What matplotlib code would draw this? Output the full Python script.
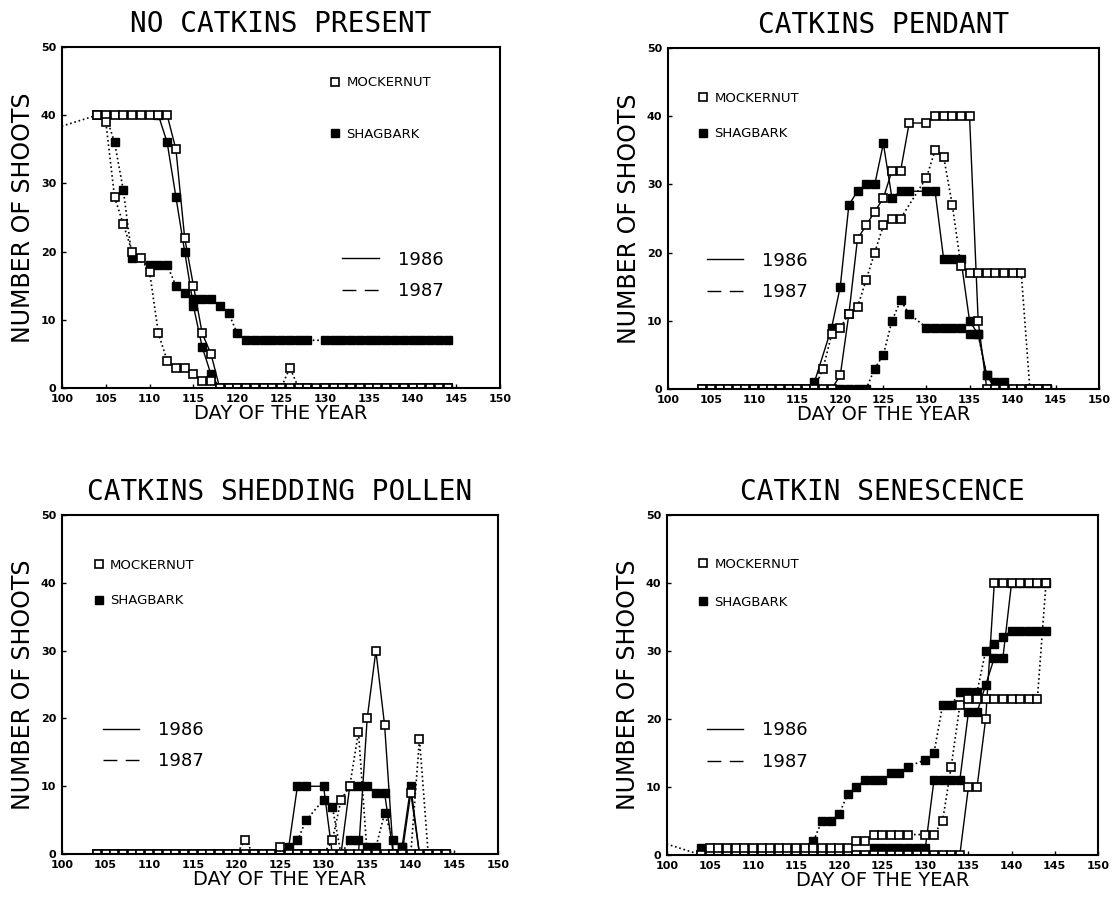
import matplotlib
matplotlib.use("Agg")
import matplotlib.pyplot as plt
from matplotlib.lines import Line2D

# ---- NO CATKINS PRESENT ----
p1_mock86_day = [104, 105, 106, 107, 108, 109, 110, 111, 112, 113, 114, 115, 116, 117, 118, 119, 120, 121,
                 122, 123, 124, 125, 126, 127, 128, 129, 130, 131, 132, 133, 134, 135, 136, 137, 138, 139,
                 140, 141, 142, 143, 144]
p1_mock86 = [40, 40, 40, 40, 40, 40, 40, 40, 40, 35, 22, 15, 8, 5, 0, 0, 0, 0,
             0, 0, 0, 0, 0, 0, 0, 0, 0, 0, 0, 0, 0, 0, 0, 0, 0, 0,
             0, 0, 0, 0, 0]
p1_mock87_day = [99, 104, 105, 106, 107, 108, 109, 110, 111, 112, 113, 114, 115, 116, 117, 118, 119, 120,
                 121, 122, 123, 124, 125, 126, 127, 128, 130, 131, 132, 133, 134, 135, 136, 137, 138, 139,
                 140, 141, 142, 143, 144]
p1_mock87 = [38, 40, 39, 28, 24, 20, 19, 17, 8, 4, 3, 3, 2, 1, 1, 0, 0, 0,
             0, 0, 0, 0, 0, 3, 0, 0, 0, 0, 0, 0, 0, 0, 0, 0, 0, 0,
             0, 0, 0, 0, 0]
p1_shag86_day = [111, 112, 113, 114, 115, 116, 117, 118, 119, 120, 121, 122, 123, 124, 125, 126, 127, 128,
                 129, 130, 131, 132, 133, 134, 135, 136, 137, 138, 139, 140, 141, 142, 143, 144]
p1_shag86 = [40, 36, 28, 20, 12, 6, 2, 0, 0, 0, 0, 0, 0, 0, 0, 0, 0, 0,
             0, 0, 0, 0, 0, 0, 0, 0, 0, 0, 0, 0, 0, 0, 0, 0]
p1_shag87_day = [105, 106, 107, 108, 110, 111, 112, 113, 114, 115, 116, 117, 118, 119, 120, 121, 122, 123,
                 124, 125, 126, 127, 128, 130, 131, 132, 133, 134, 135, 136, 137, 138, 139, 140, 141, 142,
                 143, 144]
p1_shag87 = [40, 36, 29, 19, 18, 18, 18, 15, 14, 13, 13, 13, 12, 11, 8, 7, 7, 7,
             7, 7, 7, 7, 7, 7, 7, 7, 7, 7, 7, 7, 7, 7, 7, 7, 7, 7,
             7, 7]

# ---- CATKINS PENDANT ----
p2_mock86_day = [104, 105, 106, 107, 108, 109, 110, 111, 112, 113, 114, 115, 116, 117, 118, 119, 120, 121,
                 122, 123, 124, 125, 126, 127, 128, 130, 131, 132, 133, 134, 135, 136, 137, 138, 139, 140,
                 141, 142, 143, 144]
p2_mock86 = [0, 0, 0, 0, 0, 0, 0, 0, 0, 0, 0, 0, 0, 0, 0, 0, 2, 11,
             22, 24, 26, 28, 32, 32, 39, 39, 40, 40, 40, 40, 40, 10, 0, 0, 0, 0,
             0, 0, 0, 0]
p2_mock87_day = [104, 105, 106, 107, 108, 109, 110, 111, 112, 113, 114, 115, 116, 117, 118, 119, 120, 121,
                 122, 123, 124, 125, 126, 127, 130, 131, 132, 133, 134, 135, 136, 137, 138, 139, 140, 141,
                 142, 143, 144]
p2_mock87 = [0, 0, 0, 0, 0, 0, 0, 0, 0, 0, 0, 0, 0, 0, 3, 8, 9, 11,
             12, 16, 20, 24, 25, 25, 31, 35, 34, 27, 18, 17, 17, 17, 17, 17, 17, 17,
             0, 0, 0]
p2_shag86_day = [104, 105, 106, 107, 108, 109, 110, 111, 112, 113, 114, 115, 116, 117, 119, 120, 121, 122,
                 123, 124, 125, 126, 127, 128, 130, 131, 132, 133, 134, 135, 136, 137, 138, 139, 140, 141,
                 142, 143, 144]
p2_shag86 = [0, 0, 0, 0, 0, 0, 0, 0, 0, 0, 0, 0, 0, 1, 9, 15, 27, 29,
             30, 30, 36, 28, 29, 29, 29, 29, 19, 19, 19, 10, 8, 2, 0, 0, 0, 0,
             0, 0, 0]
p2_shag87_day = [104, 105, 106, 107, 108, 109, 110, 111, 112, 113, 114, 115, 116, 117, 118, 119, 120, 121,
                 122, 123, 124, 125, 126, 127, 128, 130, 131, 132, 133, 134, 135, 136, 137, 138, 139, 140,
                 141, 142, 143, 144]
p2_shag87 = [0, 0, 0, 0, 0, 0, 0, 0, 0, 0, 0, 0, 0, 0, 0, 0, 0, 0,
             0, 0, 3, 5, 10, 13, 11, 9, 9, 9, 9, 9, 8, 8, 2, 1, 1, 0,
             0, 0, 0, 0]

# ---- CATKINS SHEDDING POLLEN ----
p3_mock86_day = [104, 105, 106, 107, 108, 109, 110, 111, 112, 113, 114, 115, 116, 117, 118, 119, 120, 121,
                 122, 123, 124, 125, 126, 127, 128, 129, 130, 131, 132, 133, 134, 135, 136, 137, 138, 139,
                 140, 141, 142, 143, 144]
p3_mock86 = [0, 0, 0, 0, 0, 0, 0, 0, 0, 0, 0, 0, 0, 0, 0, 0, 0, 0,
             0, 0, 0, 0, 0, 0, 0, 0, 0, 0, 0, 0, 0, 20, 30, 19, 0, 0,
             9, 0, 0, 0, 0]
p3_mock87_day = [104, 105, 106, 107, 108, 109, 110, 111, 112, 113, 114, 115, 116, 117, 118, 119, 120, 121,
                 122, 123, 124, 125, 126, 127, 128, 129, 130, 131, 132, 133, 134, 135, 136, 137, 138, 139,
                 140, 141, 142, 143, 144]
p3_mock87 = [0, 0, 0, 0, 0, 0, 0, 0, 0, 0, 0, 0, 0, 0, 0, 0, 0, 2,
             0, 0, 0, 1, 0, 0, 0, 0, 0, 2, 8, 10, 18, 0, 0, 0, 0, 0,
             0, 17, 0, 0, 0]
p3_shag86_day = [104, 105, 106, 107, 108, 109, 110, 111, 112, 113, 114, 115, 116, 117, 118, 119, 120, 121,
                 122, 123, 124, 125, 126, 127, 128, 130, 131, 132, 133, 134, 135, 136, 137, 138, 139, 140,
                 141, 142, 143, 144]
p3_shag86 = [0, 0, 0, 0, 0, 0, 0, 0, 0, 0, 0, 0, 0, 0, 0, 0, 0, 0,
             0, 0, 0, 0, 1, 10, 10, 10, 0, 0, 10, 10, 10, 9, 9, 0, 1, 10,
             0, 0, 0, 0]
p3_shag87_day = [104, 105, 106, 107, 108, 109, 110, 111, 112, 113, 114, 115, 116, 117, 118, 119, 120, 121,
                 122, 123, 124, 125, 126, 127, 128, 130, 131, 132, 133, 134, 135, 136, 137, 138, 139, 140,
                 141, 142, 143, 144]
p3_shag87 = [0, 0, 0, 0, 0, 0, 0, 0, 0, 0, 0, 0, 0, 0, 0, 0, 0, 0,
             0, 0, 0, 0, 0, 2, 5, 8, 7, 0, 2, 2, 1, 1, 6, 2, 1, 0,
             0, 0, 0, 0]

# ---- CATKIN SENESCENCE ----
p4_mock86_day = [104, 105, 106, 107, 108, 109, 110, 111, 112, 113, 114, 115, 116, 117, 118, 119, 120, 121,
                 122, 123, 124, 125, 126, 127, 128, 129, 130, 131, 132, 133, 134, 135, 136, 137, 138, 139,
                 140, 141, 142, 143, 144]
p4_mock86 = [0, 0, 0, 0, 0, 0, 0, 0, 0, 0, 0, 0, 0, 0, 0, 0, 0, 0,
             0, 0, 0, 0, 0, 0, 0, 0, 0, 0, 0, 0, 0, 10, 10, 20, 40, 40,
             40, 40, 40, 40, 40]
p4_mock87_day = [99, 104, 105, 106, 107, 108, 109, 110, 111, 112, 113, 114, 115, 116, 117, 118, 119, 120,
                 121, 122, 123, 124, 125, 126, 127, 128, 130, 131, 132, 133, 134, 135, 136, 137, 138, 139,
                 140, 141, 142, 143, 144]
p4_mock87 = [2, 0, 1, 1, 1, 1, 1, 1, 1, 1, 1, 1, 1, 1, 1, 1, 1, 1,
             1, 2, 2, 3, 3, 3, 3, 3, 3, 3, 5, 13, 22, 23, 23, 23, 23, 23,
             23, 23, 23, 23, 40]
p4_shag86_day = [104, 105, 106, 107, 108, 109, 110, 111, 112, 113, 114, 115, 116, 117, 118, 119, 120, 121,
                 122, 123, 124, 125, 126, 127, 128, 129, 130, 131, 132, 133, 134, 135, 136, 137, 138, 139,
                 140, 141, 142, 143, 144]
p4_shag86 = [0, 0, 0, 0, 0, 0, 0, 0, 0, 0, 0, 0, 0, 0, 0, 0, 0, 0,
             0, 0, 1, 1, 1, 1, 1, 1, 1, 11, 11, 11, 11, 21, 21, 25, 29, 29,
             40, 40, 40, 40, 40]
p4_shag87_day = [104, 105, 106, 107, 108, 109, 110, 111, 112, 113, 114, 115, 116, 117, 118, 119, 120, 121,
                 122, 123, 124, 125, 126, 127, 128, 130, 131, 132, 133, 134, 135, 136, 137, 138, 139, 140,
                 141, 142, 143, 144]
p4_shag87 = [1, 1, 1, 1, 1, 1, 1, 1, 1, 1, 1, 1, 1, 2, 5, 5, 6, 9,
             10, 11, 11, 11, 12, 12, 13, 14, 15, 22, 22, 24, 24, 24, 30, 31, 32, 33,
             33, 33, 33, 33]

titles = ["NO CATKINS PRESENT", "CATKINS PENDANT", "CATKINS SHEDDING POLLEN", "CATKIN SENESCENCE"]
x_ticks = [100, 105, 110, 115, 120, 125, 130, 135, 140, 145, 150]
y_ticks = [0, 10, 20, 30, 40, 50]

fig = plt.figure(figsize=(11.15, 8.99), dpi=100)
positions = [[0.0556, 0.5684, 0.393, 0.3793],
             [0.599, 0.5673, 0.3865, 0.3793],
             [0.0556, 0.050, 0.391, 0.377],
             [0.598, 0.049, 0.3865, 0.378]]

panels = [
    (p1_mock86_day, p1_mock86, p1_mock87_day, p1_mock87, p1_shag86_day, p1_shag86, p1_shag87_day, p1_shag87),
    (p2_mock86_day, p2_mock86, p2_mock87_day, p2_mock87, p2_shag86_day, p2_shag86, p2_shag87_day, p2_shag87),
    (p3_mock86_day, p3_mock86, p3_mock87_day, p3_mock87, p3_shag86_day, p3_shag86, p3_shag87_day, p3_shag87),
    (p4_mock86_day, p4_mock86, p4_mock87_day, p4_mock87, p4_shag86_day, p4_shag86, p4_shag87_day, p4_shag87),
]

# legend anchors (axes fraction): species legend, year legend, species row spacing
legend_pos = [((0.61, 0.82), (0.64, 0.33), 2.9),
              ((0.068, 0.80), (0.09, 0.33), 1.7),
              ((0.071, 0.80), (0.094, 0.32), 1.7),
              ((0.071, 0.80), (0.094, 0.32), 1.9)]

ms = 5.5
for i, ax_pos in enumerate(positions):
    ax = fig.add_axes(ax_pos)
    md, mv, md7, mv7, sd, sv, sd7, sv7 = panels[i]
    # shagbark drawn first so the open squares sit on top
    ax.plot(sd, sv, color="black", lw=1.0, marker="s", ms=ms, mfc="black", mec="black")
    ax.plot(sd7, sv7, color="black", lw=1.2, ls=":", marker="s", ms=ms, mfc="black", mec="black")
    ax.plot(md, mv, color="black", lw=1.0, marker="s", ms=ms, mfc="white", mec="black", mew=1.2)
    ax.plot(md7, mv7, color="black", lw=1.2, ls=":", marker="s", ms=ms, mfc="white", mec="black", mew=1.2)

    ax.set_xlim(100, 150)
    ax.set_ylim(0, 50)
    ax.set_xticks(x_ticks)
    ax.set_yticks(y_ticks)
    ax.set_xticklabels([str(t) for t in x_ticks], fontsize=8, fontweight="bold")
    ax.set_yticklabels([str(t) for t in y_ticks], fontsize=8, fontweight="bold")
    ax.tick_params(direction="in", length=3, width=1)
    ax.tick_params(axis="x", pad=4)
    ax.tick_params(axis="y", pad=4)
    for s in ax.spines.values():
        s.set_linewidth(1.5)

    ax.set_title(titles[i], family="DejaVu Sans Mono", fontsize=20, pad=11)
    ax.set_xlabel("DAY OF THE YEAR", fontsize=14, labelpad=0)
    ax.set_ylabel("NUMBER OF SHOOTS", fontsize=17, labelpad=4)

    sp_anchor, yr_anchor, sp_gap = legend_pos[i]
    sp_handles = [Line2D([], [], ls="none", marker="s", ms=ms, mfc="white", mec="black", mew=1.2),
                  Line2D([], [], ls="none", marker="s", ms=ms, mfc="black", mec="black")]
    leg1 = ax.legend(sp_handles, ["MOCKERNUT", "SHAGBARK"], loc="center left", bbox_to_anchor=sp_anchor,
                     frameon=False, handlelength=0.9, handletextpad=0.4, labelspacing=sp_gap,
                     borderpad=0, borderaxespad=0, prop={"size": 9.5})
    ax.add_artist(leg1)
    yr_handles = [Line2D([], [], color="black", lw=1.0),
                  Line2D([], [], color="black", lw=1.0, ls=(0, (10, 6)))]
    ax.legend(yr_handles, ["1986", "1987"], loc="center left", bbox_to_anchor=yr_anchor,
              frameon=False, handlelength=2.0, handletextpad=1.05, labelspacing=0.75,
              borderpad=0, borderaxespad=0, prop={"size": 13})

fig.savefig("out.png", dpi=100)
